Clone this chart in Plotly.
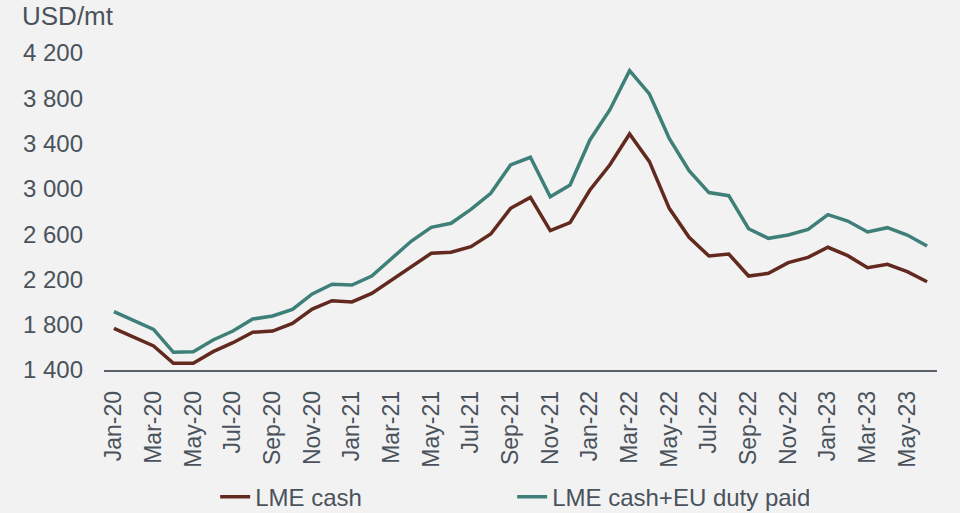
import plotly.graph_objects as go

# Meses (Jan-20 a Jun-23)
meses = [
    "Jan-20", "Feb-20", "Mar-20", "Apr-20", "May-20", "Jun-20", "Jul-20", "Aug-20", "Sep-20", "Oct-20", "Nov-20", "Dec-20",
    "Jan-21", "Feb-21", "Mar-21", "Apr-21", "May-21", "Jun-21", "Jul-21", "Aug-21", "Sep-21", "Oct-21", "Nov-21", "Dec-21",
    "Jan-22", "Feb-22", "Mar-22", "Apr-22", "May-22", "Jun-22", "Jul-22", "Aug-22", "Sep-22", "Oct-22", "Nov-22", "Dec-22",
    "Jan-23", "Feb-23", "Mar-23", "Apr-23", "May-23", "Jun-23",
]

# LME cash (USD/mt)
lme_cash = [
    1768, 1689, 1612, 1459, 1459, 1562, 1641, 1733, 1744, 1812, 1938, 2012,
    2001, 2077, 2195, 2312, 2431, 2440, 2489, 2601, 2828, 2925, 2631, 2701,
    2990, 3211, 3485, 3240, 2828, 2572, 2407, 2425, 2230, 2254, 2348, 2395,
    2484, 2410, 2304, 2334, 2268, 2180,
]

# LME cash + EU duty paid (USD/mt)
lme_eu = [
    1915, 1835, 1759, 1556, 1562, 1665, 1744, 1850, 1877, 1936, 2072, 2157,
    2151, 2230, 2386, 2539, 2660, 2696, 2819, 2961, 3211, 3279, 2931, 3034,
    3432, 3697, 4044, 3838, 3446, 3160, 2967, 2940, 2648, 2563, 2592, 2642,
    2772, 2716, 2619, 2657, 2592, 2495,
]

rotulos_x = meses[::2]
ticks_y = [1400, 1800, 2200, 2600, 3000, 3400, 3800, 4200]

cor_texto = "#4a535c"
fonte = "Liberation Sans, Arial, sans-serif"

fig = go.Figure()

fig.add_trace(go.Scatter(
    x=meses, y=lme_cash, mode="lines", name="LME cash",
    line=dict(color="#62291f", width=3.5)
))

fig.add_trace(go.Scatter(
    x=meses, y=lme_eu, mode="lines", name="LME cash+EU duty paid",
    line=dict(color="#3e8078", width=3.5)
))

# Título do eixo y no canto superior esquerdo
fig.add_annotation(
    text="USD/mt", xref="paper", yref="paper", x=0, y=1,
    xanchor="left", yanchor="middle", xshift=-84, yshift=37,
    showarrow=False, font=dict(size=26, color=cor_texto, family=fonte)
)

fig.update_layout(
    width=960, height=513,
    paper_bgcolor="#f2f2f2", plot_bgcolor="#f2f2f2",
    margin=dict(l=104, r=23, t=53, b=143, autoexpand=False),
    separators=". ",
    font=dict(family=fonte, color=cor_texto, size=24),
    showlegend=True,
    legend=dict(
        orientation="h", xref="container", yref="container",
        x=0.5335, xanchor="center", y=0.031, yanchor="middle",
        font=dict(size=24, color=cor_texto), entrywidth=252,
        bgcolor="rgba(0,0,0,0)"
    ),
    xaxis=dict(
        type="category", range=[-0.5, 41.5], automargin=False,
        tickmode="array", tickvals=rotulos_x, ticktext=rotulos_x,
        tickangle=-90, tickfont=dict(size=23, color=cor_texto),
        showgrid=False, zeroline=False,
        showline=True, linecolor="#59616b", linewidth=1.5,
        ticks="", ticklabelstandoff=10
    ),
    yaxis=dict(
        range=[1400, 4200], automargin=False,
        tickmode="array", tickvals=ticks_y,
        tickformat=",d", tickfont=dict(size=24, color=cor_texto),
        showgrid=False, zeroline=False, showline=False,
        ticks="", ticklabelstandoff=20
    ),
)

# Remove a margem padrão da página para o gráfico ficar em (0, 0)
fig.write_html(
    "out.html",
    config={"displayModeBar": False},
    post_script="document.body.style.margin='0';"
)
